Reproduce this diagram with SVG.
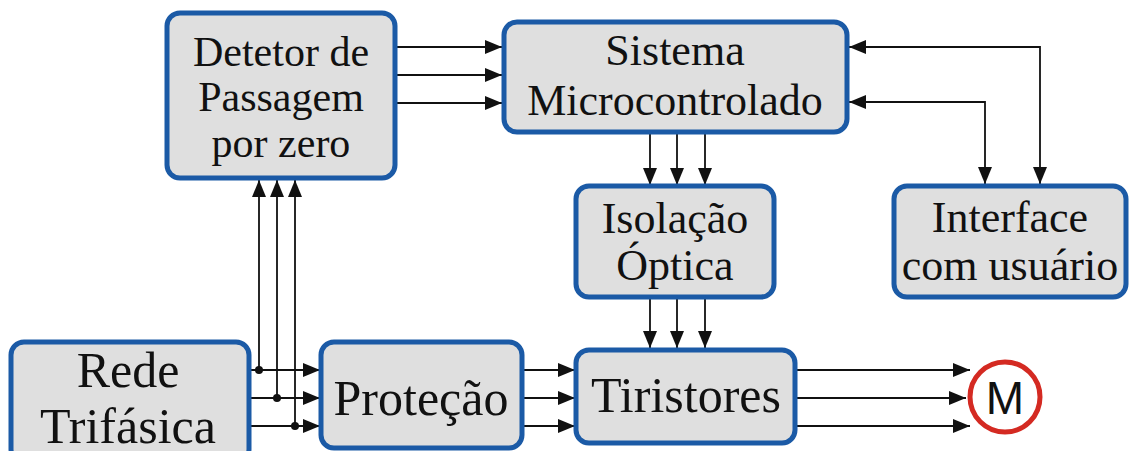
<svg xmlns="http://www.w3.org/2000/svg" width="1130" height="451" viewBox="0 0 1130 451">
<defs>
<style>
.box{fill:#dfdfdf;stroke:#1b5aa6;stroke-width:5}
.t{fill:#111;text-anchor:middle;font-family:'Liberation Serif','DejaVu Serif','Times New Roman',serif}
.s{font-size:44px}
.d{font-size:42px}
.l{font-size:50px}
.w{stroke:#111;stroke-width:1.8;fill:none}
</style>
<marker id="a" markerUnits="userSpaceOnUse" markerWidth="18" markerHeight="16" refX="17" refY="8" orient="auto-start-reverse">
<path d="M0,1 L17,8 L0,15 Z" fill="#111"/>
</marker>
</defs>
<rect width="1130" height="451" fill="#fff"/>
<g id="connectors">
<path class="w" d="M396,47 H502" marker-end="url(#a)"/>
<path class="w" d="M396,75 H502" marker-end="url(#a)"/>
<path class="w" d="M396,103 H502" marker-end="url(#a)"/>
<path class="w" d="M1040,184 V47 H849" marker-end="url(#a)" marker-start="url(#a)"/>
<path class="w" d="M985,184 V102 H849" marker-end="url(#a)" marker-start="url(#a)"/>
<path class="w" d="M650,133 V185" marker-end="url(#a)"/>
<path class="w" d="M677,133 V185" marker-end="url(#a)"/>
<path class="w" d="M705,133 V185" marker-end="url(#a)"/>
<path class="w" d="M650,298 V348" marker-end="url(#a)"/>
<path class="w" d="M677,298 V348" marker-end="url(#a)"/>
<path class="w" d="M705,298 V348" marker-end="url(#a)"/>
<path class="w" d="M250,370 H320" marker-end="url(#a)"/>
<path class="w" d="M250,398 H320" marker-end="url(#a)"/>
<path class="w" d="M250,426 H320" marker-end="url(#a)"/>
<path class="w" d="M259,370 V180" marker-end="url(#a)"/>
<path class="w" d="M277,398 V180" marker-end="url(#a)"/>
<path class="w" d="M295,426 V180" marker-end="url(#a)"/>
<circle cx="259" cy="370" r="4" fill="#111"/>
<circle cx="277" cy="398" r="4" fill="#111"/>
<circle cx="295" cy="426" r="4" fill="#111"/>
<path class="w" d="M522,370 H575" marker-end="url(#a)"/>
<path class="w" d="M522,398 H575" marker-end="url(#a)"/>
<path class="w" d="M522,426 H575" marker-end="url(#a)"/>
<path class="w" d="M796,370 H970" marker-end="url(#a)"/>
<path class="w" d="M796,398 H966" marker-end="url(#a)"/>
<path class="w" d="M796,426 H970" marker-end="url(#a)"/>
</g>
<g id="detetor">
<rect class="box" x="167" y="13" width="228" height="165" rx="13"/>
<text class="t d" x="281" y="66">Detetor de</text>
<text class="t d" x="281" y="111">Passagem</text>
<text class="t d" x="281" y="157">por zero</text>
</g>
<g id="sistema">
<rect class="box" x="504" y="22" width="343" height="110" rx="13"/>
<text class="t s" x="675" y="65">Sistema</text>
<text class="t s" x="675" y="115">Microcontrolado</text>
</g>
<g id="isolacao">
<rect class="box" x="576" y="186" width="198" height="111" rx="13"/>
<text class="t s" x="675" y="233">Isolação</text>
<text class="t s" x="675" y="280">Óptica</text>
</g>
<g id="interface">
<rect class="box" x="894" y="186" width="232" height="111" rx="13"/>
<text class="t s" x="1010" y="232">Interface</text>
<text class="t s" x="1010" y="280">com usuário</text>
</g>
<g id="rede">
<rect class="box" x="11" y="342" width="238" height="120" rx="13"/>
<text class="t l" x="128" y="387">Rede</text>
<text class="t l" x="128" y="443">Trifásica</text>
</g>
<g id="protecao">
<rect class="box" x="321" y="342" width="201" height="106" rx="13"/>
<text class="t l" x="421" y="415">Proteção</text>
</g>
<g id="tiristores">
<rect class="box" x="576" y="350" width="219" height="93" rx="13"/>
<text class="t l" x="686" y="412">Tiristores</text>
</g>
<g id="motor">
<circle cx="1005" cy="397" r="35" fill="#fff" stroke="#d42a22" stroke-width="5"/>
<text font-family="'Liberation Sans', Arial, sans-serif" font-size="46" fill="#111" text-anchor="middle" x="1005" y="414">M</text>
</g>
</svg>
